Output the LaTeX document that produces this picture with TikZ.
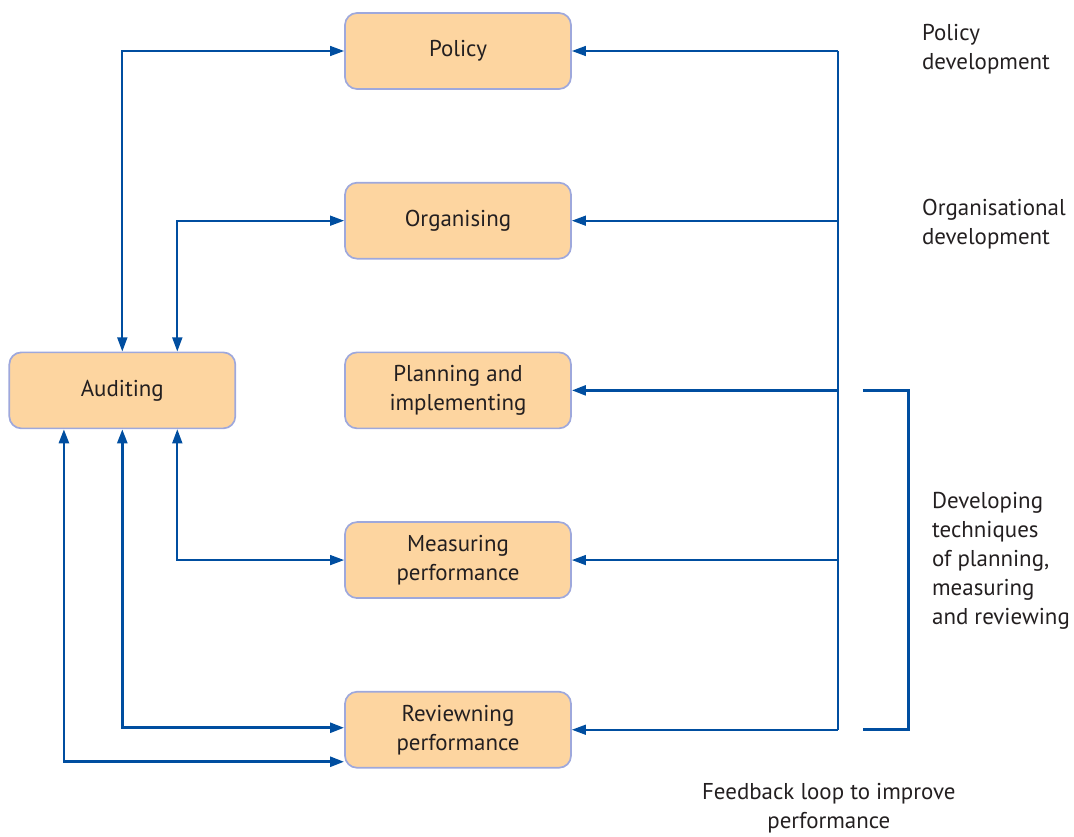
\documentclass[tikz,border=0pt]{standalone}
\usepackage{fontspec}
\setmainfont{PT Sans}
\usetikzlibrary{arrows.meta, positioning}
\definecolor{boxfill}{RGB}{253,213,160}
\definecolor{boxline}{RGB}{158,168,220}
\definecolor{flow}{RGB}{0,78,160}
\definecolor{ink}{RGB}{35,31,32}

\begin{document}
\begin{tikzpicture}[
        font=\fontsize{16.3}{20.6}\selectfont, text=ink,
        box/.style={rectangle, rounded corners=0.3cm, draw=boxline, line width=1.2pt, fill=boxfill, minimum width=5.65cm, minimum height=1.9cm, inner sep=0pt, align=center},
        note/.style={inner sep=0pt, align=left},
        arrow/.style={-{Triangle[length=10pt, width=7pt]}, draw=flow, line width=1.4pt},
        link/.style={{Triangle[length=10pt, width=7pt]}-{Triangle[length=10pt, width=7pt]}, draw=flow, line width=1.4pt},
        heavy/.style={line width=2pt}
    ]
    \useasboundingbox (0,0) rectangle (26.85,-20.9);

    % Elements
    \node (policy) [box] at (11.45,-1.275) {Policy};
    \node (org) [box, below=2.3cm of policy] {Organising};
    \node (plan) [box, below=2.3cm of org] {Planning and\\implementing};
    \node (meas) [box, below=2.3cm of plan] {Measuring\\performance};
    \node (rev) [box, below=2.3cm of meas] {Reviewning\\performance};
    \node (aud) [box, left=2.7cm of plan] {Auditing};

    % Auditing links
    \draw [link] (aud.north) |- (policy.west);
    \draw [link] ([xshift=1.375cm]aud.north) |- (org.west);
    \draw [link] ([xshift=1.375cm]aud.south) |- (meas.west);
    \draw [link, heavy] (aud.south) |- ([yshift=0.05cm]rev.west);
    \draw [link, heavy] ([xshift=-1.46cm]aud.south) |- ([yshift=-0.8cm]rev.west);

    % Feedback spine
    \coordinate (spinetop) at ([xshift=6.65cm]policy.east);
    \coordinate (spinebot) at (spinetop |- rev.east);
    \draw [flow, line width=1.4pt] (spinetop) -- (spinebot);
    \draw [arrow] (spinetop) -- (policy.east);
    \draw [arrow] (spinetop |- org.east) -- (org.east);
    \draw [arrow, heavy] (spinetop |- plan.east) -- (plan.east);
    \draw [arrow] (spinetop |- meas.east) -- (meas.east);
    \draw [arrow] (spinebot) -- (rev.east);

    % Bracket
    \coordinate (brtop) at ([xshift=0.625cm]spinetop |- plan.east);
    \coordinate (brbot) at (brtop |- rev.east);
    \draw [flow, line width=2pt] (brtop) -| ([xshift=1.15cm]brbot) -- (brbot);

    % Labels
    \node (poldev) [note, anchor=west] at ([xshift=2.1cm, yshift=0.04cm]spinetop) {Policy\\development};
    \node (orgdev) [note, anchor=west] at ([xshift=2.1cm, yshift=-0.075cm]spinetop |- org.east) {Organisational\\development};
    \node (techdev) [note, anchor=west] at ([xshift=1.725cm, yshift=-0.02cm]brtop |- meas.east) {Developing\\techniques\\of planning,\\measuring\\and reviewing};
    \node (feedback) [note, align=center] at ([xshift=-0.225cm, yshift=-1.96cm]spinebot) {Feedback loop to improve\\performance};

\end{tikzpicture}
\end{document}
